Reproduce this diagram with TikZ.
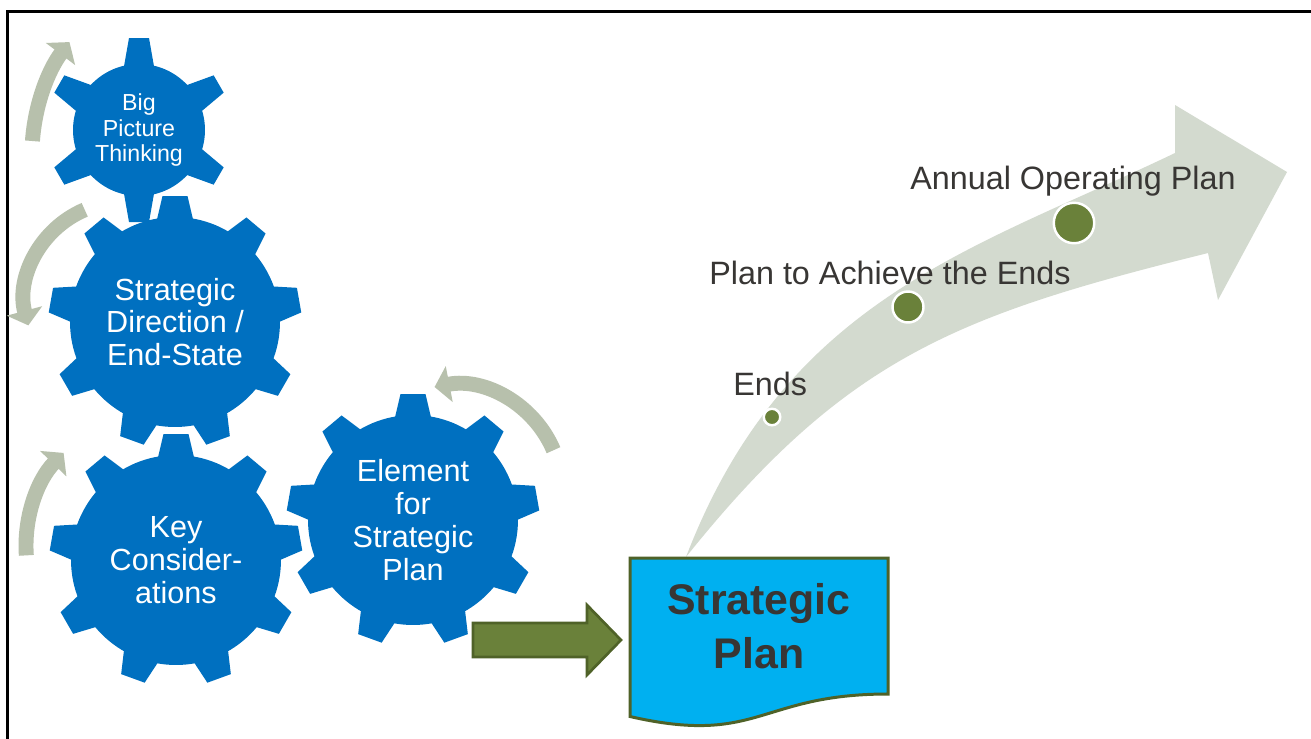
\documentclass[tikz,border=0pt]{standalone}
\usepackage{fontspec}
\setmainfont{Liberation Sans}
\usetikzlibrary{calc,positioning,arrows.meta}

\definecolor{gearblue}{RGB}{0,112,192}
\definecolor{cyclegrey}{RGB}{183,192,172}
\definecolor{pathgrey}{RGB}{211,218,207}
\definecolor{leafgreen}{RGB}{106,129,58}
\definecolor{leafdark}{RGB}{79,98,40}
\definecolor{sheetblue}{RGB}{0,176,240}
\definecolor{inkgrey}{RGB}{56,54,52}

\begin{document}
\begin{tikzpicture}[
                x=0.02cm, y=-0.02cm,
                gear/.style={circle,fill=gearblue,inner sep=0pt,text=white,align=center,minimum size=4.2cm,
                    font=\fontsize{17.4}{18.7}\selectfont},
                cycle arrow/.style={draw=cyclegrey,line width=8.5pt,-{Triangle[length=8.5pt,width=20.4pt]}},
                milestone/.style={circle,fill=leafgreen,draw=white,line width=1.4pt,inner sep=0pt},
                stage/.style={text=inkgrey,font=\fontsize{18.4}{22}\selectfont,anchor=base west,inner sep=0pt}
            ]
                \clip (0,0) rectangle (1311,738);
                \fill[white] (0,0) rectangle (1311,738);
                \draw[line width=1.5pt] (7.5,760) -- (7.5,11.3) -- (1330,11.3);

                \fill[pathgrey] (686,557) .. controls (786,297) and (975,249) .. (1175,153) -- (1175,105)
                    -- (1287,172) -- (1218,300) -- (1208,253) .. controls (958,315) and (846,357) .. (686,557) -- cycle;
                \node[milestone,minimum size=0.33cm] (ends)   at (772,417)  {};
                \node[milestone,minimum size=0.62cm] (means)  at (908,307)  {};
                \node[milestone,minimum size=0.81cm] (annual) at (1074,223) {};
                \node[stage] (endslabel)   at (733,395) {Ends};
                \node[stage] (meanslabel)  at (709,284) {Plan to Achieve the Ends};
                \node[stage] (annuallabel) at (910,189) {Annual Operating Plan};

                \draw[draw=leafdark,fill=sheetblue,line width=1.7pt] (630,558) -- (888,558) -- (888,694)
                    .. controls (759,694) and (759,746) .. (630,716.5) -- cycle;
                \node[text=inkgrey,font=\fontsize{24.4}{30.6}\selectfont\bfseries,align=center] (plan) at (759,626) {Strategic\\Plan};
                \draw[draw=leafdark,fill=leafgreen,line width=1.5pt] (473,623) -- (587,623) -- (587,605) -- (621,640)
                    -- (587,675) -- (587,657) -- (473,657) -- cycle;

                \draw[cycle arrow] ([shift={(184:186)}]218,154) arc[start angle=184,end angle=217,radius=186];
                \draw[cycle arrow] ([shift={(247:98)}]123,300) arc[start angle=247,end angle=165,radius=98];
                \draw[cycle arrow] ([shift={(176:134)}]160,546) arc[start angle=176,end angle=224,radius=134];
                \draw[cycle arrow] ([shift={(337:107)}]455,492) arc[start angle=337,end angle=259,radius=107];

                \node[gear,minimum size=2.64cm,font=\fontsize{13.2}{14.5}\selectfont] (bigpic) at (139,130) {Big\\Picture\\Thinking};
                \foreach \a in {90,150,...,390}
                    \fill[gearblue,shift={(bigpic.center)},rotate=\a] (58,-16) -- (92,-10) -- (92,10) -- (58,16) -- cycle;
                \node[gear] (direction) at (175,322) {Strategic\\Direction /\\End-State};
                \node[gear] (keycons)   at (176,560) {Key\\Consider-\\ations};
                \node[gear] (element)   at (413,520) {Element\\for\\Strategic\\Plan};
                \foreach \g in {direction,keycons,element}
                    \foreach \a in {90,130,...,410}
                        \fill[gearblue,shift={(\g.center)},rotate=\a] (95,-19.8) -- (126,-12.5) -- (126,12.5) -- (95,19.8) -- cycle;
            \end{tikzpicture}
\end{document}
